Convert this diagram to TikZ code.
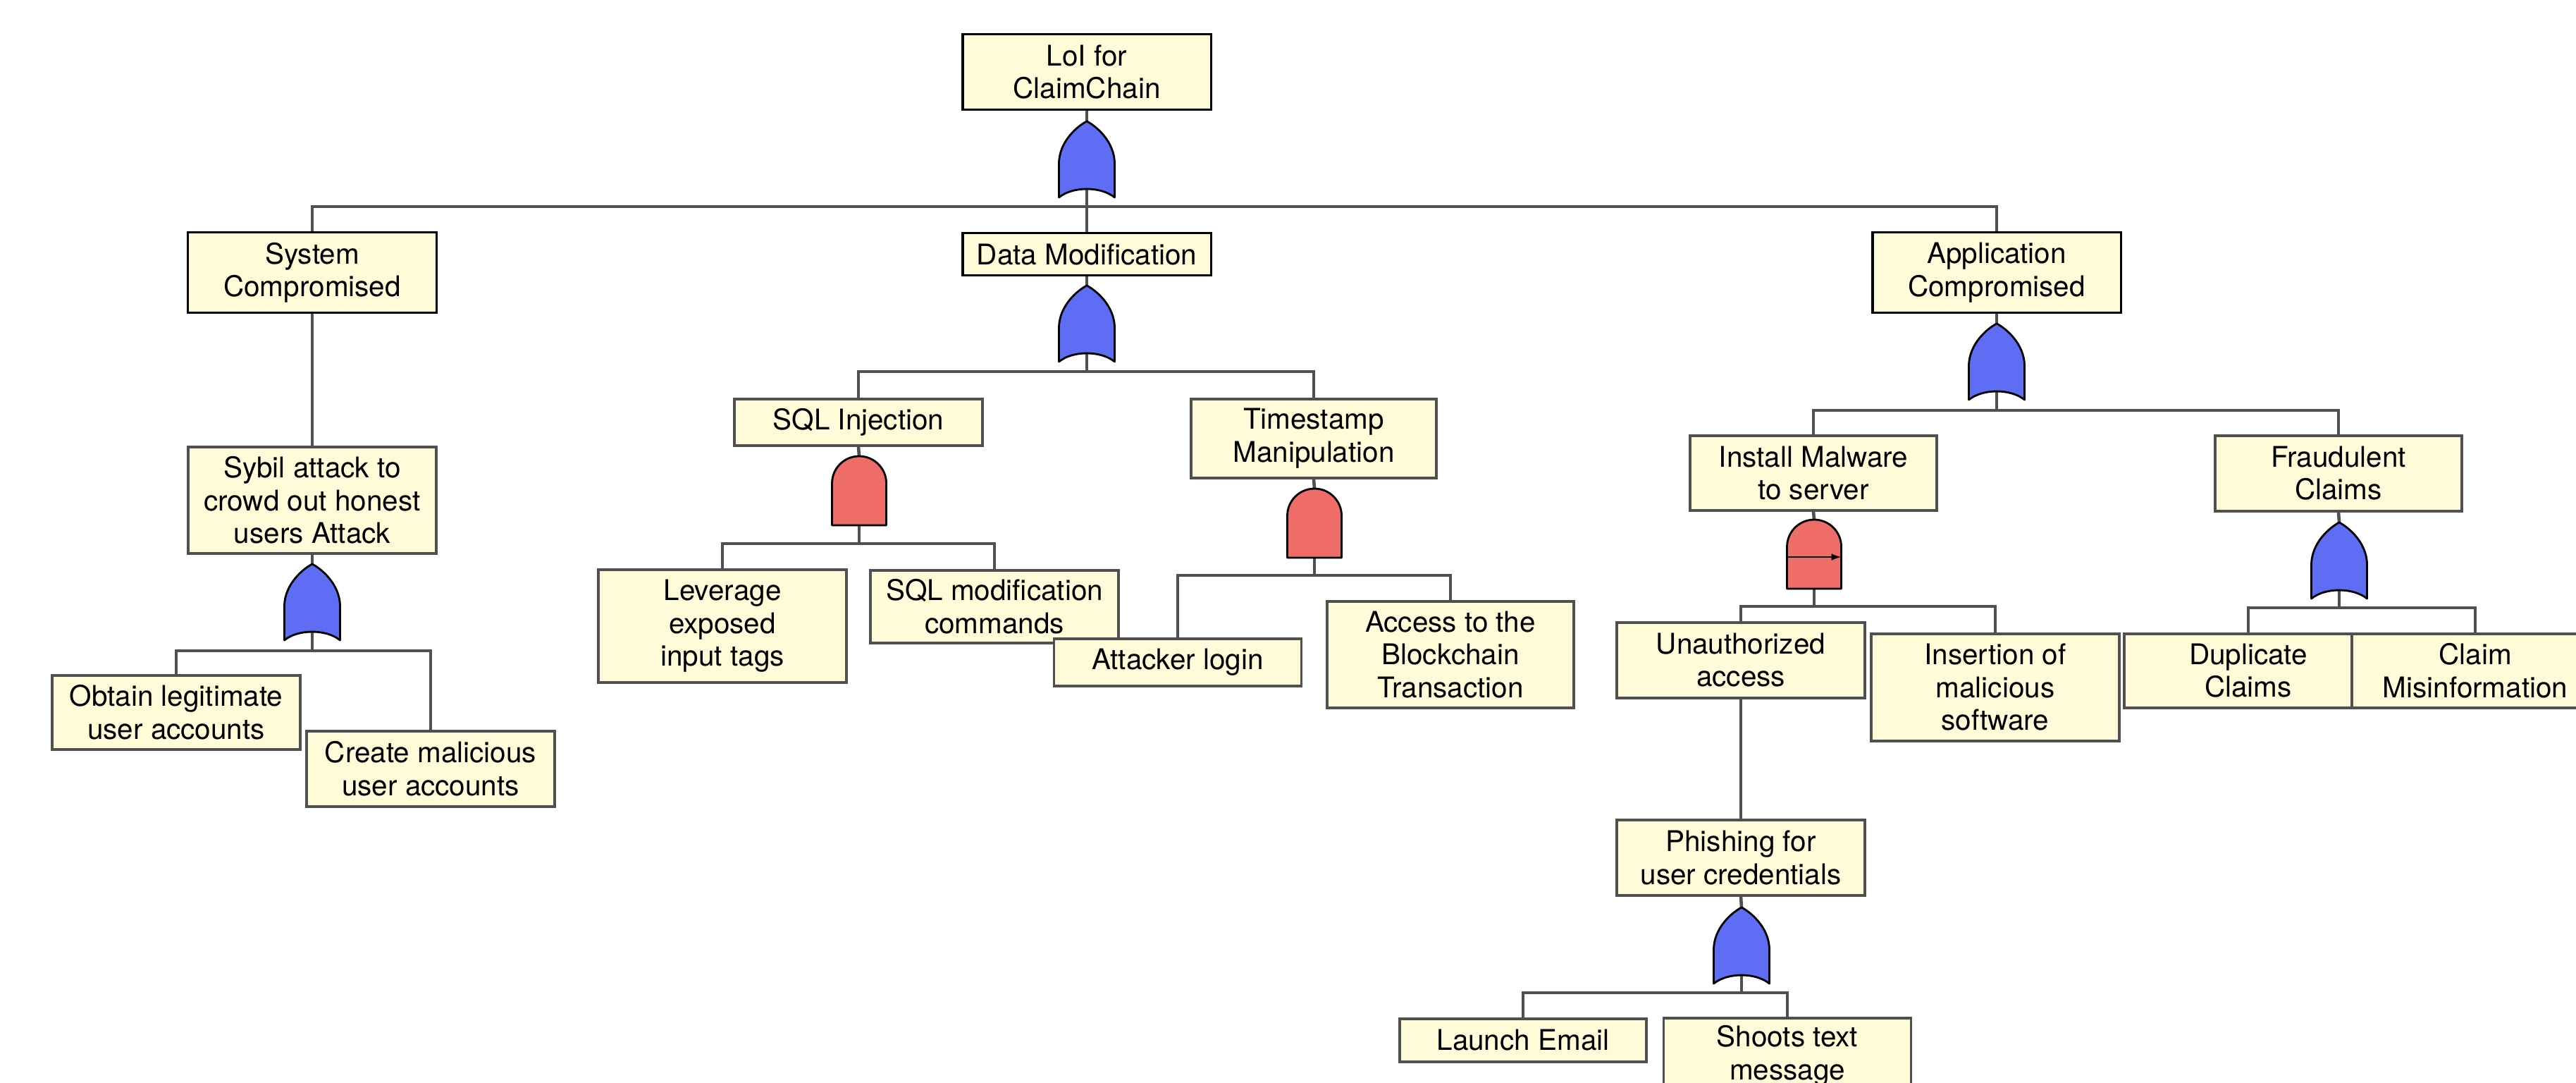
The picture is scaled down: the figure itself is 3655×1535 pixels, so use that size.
\documentclass[tikz,border=0pt]{standalone}
\usepackage{fontspec}
\setmainfont{TeX Gyre Heros}
\usetikzlibrary{arrows.meta}
\pgfdeclarelayer{wires}
\pgfsetlayers{wires,main}
\definecolor{boxfill}{HTML}{FFFAD7}
\definecolor{wire}{HTML}{505050}
\definecolor{orblue}{HTML}{5E6DF4}
\definecolor{andred}{HTML}{EE6D69}
\tikzset{
  event/.style={draw=wire, line width=1.0pt, fill=boxfill, inner sep=0pt,
    align=center, anchor=north, minimum width=3.52cm,
    font=\fontsize{11.5}{13.2}\selectfont},
  topevent/.style={event, draw=black, line width=0.9pt},
  wirelink/.style={draw=wire, line width=1.3pt, line join=miter},
  gateline/.style={draw=black, line width=0.8pt, line join=round},
  orgate/.pic={
    \path[gateline, fill=orblue] (0,0) .. controls (12,6) and (39.5,28) .. (39.5,60)
      -- (39.5,108) .. controls (20,92) and (-20,92) .. (-39.5,108)
      -- (-39.5,60) .. controls (-39.5,28) and (-12,6) .. (0,0) -- cycle;
    \coordinate (-top) at (0,0);
    \coordinate (-bot) at (0,96);
  },
  andgate/.pic={
    \path[gateline, fill=andred] (-38.5,98) -- (-38.5,38.5)
      arc[start angle=180, end angle=0, radius=0.385cm] -- (38.5,98) -- cycle;
    \coordinate (-top) at (0,0);
    \coordinate (-bot) at (0,98);
  },
  pandgate/.pic={
    \path[gateline, fill=andred] (-38.5,98) -- (-38.5,38.5)
      arc[start angle=180, end angle=0, radius=0.385cm] -- (38.5,98) -- cycle;
    \draw[line width=0.6pt, -{Latex[length=0.14cm, width=0.1cm]}] (-38.5,53) -- (38.5,53);
    \coordinate (-top) at (0,0);
    \coordinate (-bot) at (0,98);
  },
}
\begin{document}
\begin{tikzpicture}[x=0.01cm, y=-0.01cm]
\useasboundingbox (0,0) rectangle (3655,1535);
\begin{pgfonlayer}{wires}
\fill[white] (0,0) rectangle (3655,1535);
\end{pgfonlayer}
\clip (0,0) rectangle (3655,1535);

% gates
\pic (g0)   at (1542,172) {orgate};
\pic (gdm)  at (1542,405) {orgate};
\pic (gapp) at (2833,459) {orgate};
\pic (gsyb) at (443,800)  {orgate};
\pic (gsql) at (1219,647) {andgate};
\pic (gts)  at (1865,693) {andgate};
\pic (gim)  at (2574,737) {pandgate};
\pic (gfc)  at (3319,741) {orgate};
\pic (gph)  at (2471,1287) {orgate};

% bus junctions below the gates
\coordinate (b0)   at (1542,293);
\coordinate (bdm)  at (1542,527);
\coordinate (bapp) at (2833,582);
\coordinate (bsyb) at (443,923);
\coordinate (bsql) at (1219,771);
\coordinate (bts)  at (1865,816);
\coordinate (bim)  at (2574,860);
\coordinate (bfc)  at (3319,862);
\coordinate (bph)  at (2471,1408);

% events
\node[topevent, minimum height=1.07cm] (loi) at (1542,47) {LoI for\\ClaimChain};
\node[topevent, minimum height=1.14cm] (sys) at (443,328) {System\\Compromised};
\node[topevent, minimum height=0.60cm] (dm)  at (1542,329) {Data Modification};
\node[topevent, minimum height=1.14cm] (app) at (2833,328) {Application\\Compromised};

\node[event, minimum height=1.51cm] (syb) at (443,632) {Sybil attack to\\crowd out honest\\users Attack};
\node[event, minimum height=1.05cm] (obt) at (250,956) {Obtain legitimate\\user accounts};
\node[event, minimum height=1.07cm] (cre) at (611,1035) {Create malicious\\user accounts};

\node[event, minimum height=0.66cm] (sqli) at (1218,564) {SQL Injection};
\node[event, minimum height=1.12cm, minimum width=3.48cm] (ts) at (1864,564) {Timestamp\\Manipulation};
\node[event, minimum height=1.60cm] (lev) at (1025,806) {Leverage\\exposed\\input tags};
\node[event, minimum height=1.03cm] (sqlm) at (1411,807) {SQL modification\\commands};
\node[event, minimum height=0.67cm, minimum width=3.51cm] (att) at (1671,904) {Attacker login};
\node[event, minimum height=1.51cm, minimum width=3.50cm] (acc) at (2058,851) {Access to the\\Blockchain\\Transaction};

\node[event, minimum height=1.06cm, minimum width=3.50cm] (inst) at (2573,616) {Install Malware\\to server};
\node[event, minimum height=1.07cm, minimum width=3.50cm] (fraud) at (3318,616) {Fraudulent\\Claims};
\node[event, minimum height=1.07cm] (una) at (2470,881) {Unauthorized\\access};
\node[event, minimum height=1.52cm] (ins) at (2831,897) {Insertion of\\malicious\\software};
\node[event, minimum height=1.05cm] (dup) at (3190,897) {Duplicate\\Claims};
\node[event, minimum height=1.05cm, minimum width=3.50cm] (cmi) at (3512,897) {Claim\\Misinformation};
\node[event, minimum height=1.07cm] (phi) at (2470,1161) {Phishing for\\user credentials};
\node[event, minimum height=0.61cm, minimum width=3.50cm] (lem) at (2161,1443) {Launch Email};
\node[event, minimum height=1.07cm, minimum width=3.51cm] (sho) at (2536,1442) {Shoots text\\message};

% connectors, kept beneath the boxes and gates
\begin{pgfonlayer}{wires}
\begin{scope}[wirelink]
  \draw (loi.south) -- (g0-top);
  \draw (g0-bot) -- (b0);
  \draw (b0) -| (sys.north);
  \draw (b0) -| (app.north);
  \draw (b0) -- (dm.north);

  \draw (sys.south) -- (syb.north);
  \draw (syb.south) -- (gsyb-top);
  \draw (gsyb-bot) -- (bsyb);
  \draw (bsyb) -| (obt.north);
  \draw (bsyb) -| (cre.north);

  \draw (dm.south) -- (gdm-top);
  \draw (gdm-bot) -- (bdm);
  \draw (bdm) -| (sqli.north);
  \draw (bdm) -| (ts.north);

  \draw (sqli.south) -- (gsql-top);
  \draw (gsql-bot) -- (bsql);
  \draw (bsql) -| (lev.north);
  \draw (bsql) -| (sqlm.north);

  \draw (ts.south) -- (gts-top);
  \draw (gts-bot) -- (bts);
  \draw (bts) -| (att.north);
  \draw (bts) -| (acc.north);

  \draw (app.south) -- (gapp-top);
  \draw (gapp-bot) -- (bapp);
  \draw (bapp) -| (inst.north);
  \draw (bapp) -| (fraud.north);

  \draw (inst.south) -- (gim-top);
  \draw (gim-bot) -- (bim);
  \draw (bim) -| (una.north);
  \draw (bim) -| (ins.north);

  \draw (fraud.south) -- (gfc-top);
  \draw (gfc-bot) -- (bfc);
  \draw (bfc) -| (dup.north);
  \draw (bfc) -| (cmi.north);

  \draw (una.south) -- (phi.north);
  \draw (phi.south) -- (gph-top);
  \draw (gph-bot) -- (bph);
  \draw (bph) -| (lem.north);
  \draw (bph) -| (sho.north);
\end{scope}
\end{pgfonlayer}
\end{tikzpicture}
\end{document}
